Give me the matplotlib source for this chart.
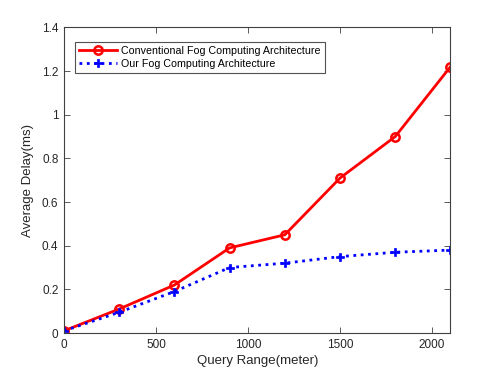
import matplotlib
matplotlib.use("Agg")
import matplotlib.pyplot as plt

query_range = [0, 300, 600, 900, 1200, 1500, 1800, 2100]
delay_conventional = [0.01, 0.11, 0.22, 0.39, 0.45, 0.71, 0.90, 1.22]
delay_ours = [0.01, 0.095, 0.19, 0.30, 0.32, 0.35, 0.37, 0.38]

label_conv = "Conventional Fog Computing Architecture"
label_ours = "Our Fog Computing Architecture"

plt.rcParams["font.family"] = ["Liberation Sans", "DejaVu Sans"]

fig = plt.figure(figsize=(4.98, 3.74), dpi=100)
ax = fig.add_axes([0.1285, 0.1096, 0.776, 0.817])

ax.plot(query_range, delay_conventional, color="red", linewidth=2,
        marker="o", markersize=6, markerfacecolor="none",
        markeredgewidth=1.8, label=label_conv)
ax.plot(query_range, delay_ours, color="blue", linewidth=2, linestyle=":",
        marker="P", markersize=6, markeredgewidth=0.5, label=label_ours)

ax.set_xlim(0, 2100)
ax.set_ylim(0, 1.4)
ax.set_xticks([0, 500, 1000, 1500, 2000])
ax.set_yticks([0, 0.2, 0.4, 0.6, 0.8, 1, 1.2, 1.4])
ax.set_yticklabels(["0", "0.2", "0.4", "0.6", "0.8", "1", "1.2", "1.4"])

ax.tick_params(direction="in", top=True, right=True, labelsize=8.5,
               colors="#404040", labelcolor="#262626", length=4, width=0.6,
               pad=4)
for s in ax.spines.values():
    s.set_color("#404040")
    s.set_linewidth(0.8)

ax.set_xlabel("Query Range(meter)", fontsize=9.5, color="#262626", labelpad=3)
ax.set_ylabel("Average Delay(ms)", fontsize=9.5, color="#262626", labelpad=6)

leg = ax.legend(loc="upper left", bbox_to_anchor=(0.028, 0.952), fontsize=7.7,
                frameon=True, fancybox=False, borderpad=0.35,
                handlelength=3.6, handletextpad=0.4, labelspacing=0.3,
                borderaxespad=0)
leg.get_frame().set_edgecolor("#262626")
leg.get_frame().set_linewidth(0.8)

fig.savefig("out.png", dpi=100)
